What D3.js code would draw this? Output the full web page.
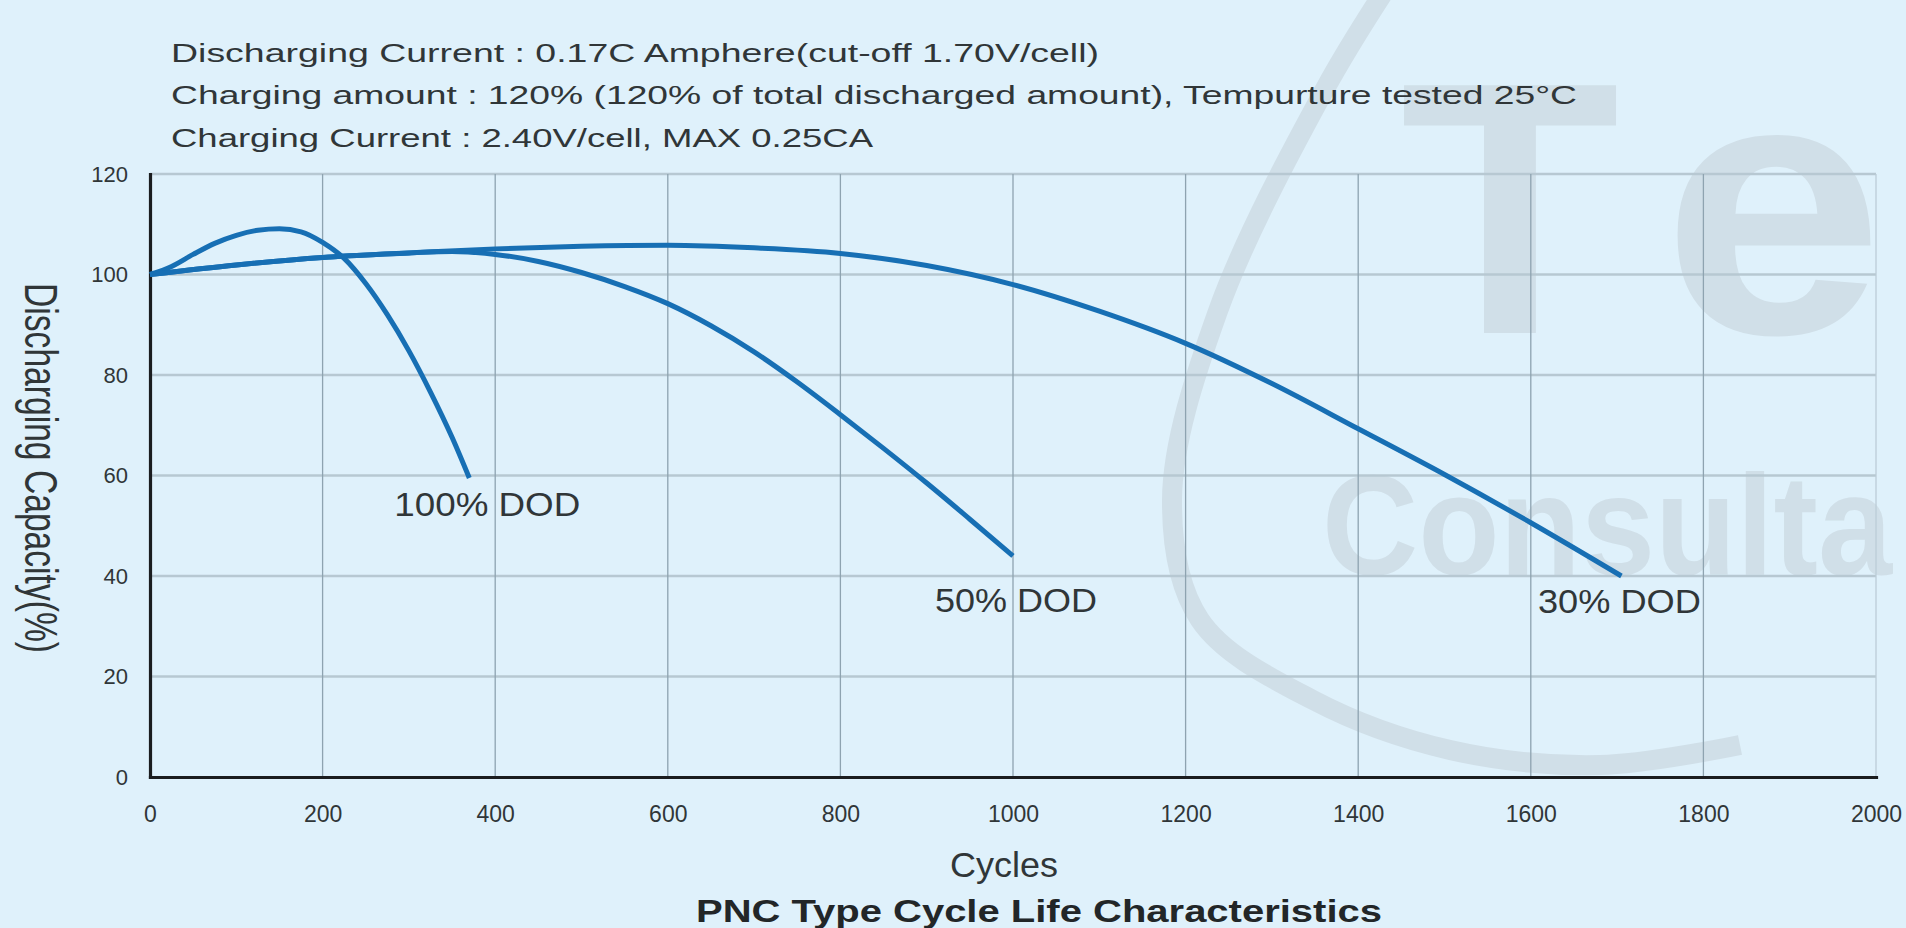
<!DOCTYPE html>
<html>
<head>
<meta charset="utf-8">
<script src="https://cdn.jsdelivr.net/npm/d3@7"></script>
<style>
body { margin: 0; background: #dff1fb; }
svg { display: block; font-family: "Liberation Sans", Arial, sans-serif; }
</style>
</head>
<body>
<svg width="1906" height="928"></svg>
<script>
// cycle life curves
var cycles100 = [0, 25, 50, 75, 100, 125, 150, 175, 200, 225, 250, 275, 300, 325, 350, 370];
var capacity100 = [100, 101.6, 104, 106.2, 107.8, 108.8, 109.1, 108.5, 106.4, 103.2, 98.2, 92, 84.8, 76.6, 67.6, 59.5];

var cycles50 = [0, 100, 200, 300, 350, 400, 450, 500, 550, 600, 650, 700, 750, 800, 850, 900, 950, 1000];
var capacity50 = [100, 101.9, 103.4, 104.3, 104.6, 104, 102.6, 100.4, 97.6, 94.2, 89.8, 84.6, 78.6, 72.1, 65.4, 58.5, 51.3, 44];

var cycles30 = [0, 100, 200, 300, 400, 500, 600, 700, 800, 900, 1000, 1100, 1200, 1300, 1400, 1500, 1600, 1705];
var capacity30 = [100, 101.9, 103.4, 104.3, 105.1, 105.6, 105.8, 105.3, 104.2, 101.8, 98, 92.7, 86.3, 78.3, 69.3, 60.2, 50.6, 40];

var seriesNames = ["100% DOD", "50% DOD", "30% DOD"];
var xTicks = [0, 200, 400, 600, 800, 1000, 1200, 1400, 1600, 1800, 2000];
var yTicks = [0, 20, 40, 60, 80, 100, 120];

var notes = [
  "Discharging Current : 0.17C Amphere(cut-off 1.70V/cell)",
  "Charging amount : 120% (120% of total discharged amount), Tempurture tested 25°C",
  "Charging Current : 2.40V/cell, MAX 0.25CA"
];
var xTitle = "Cycles";
var yTitle = "Discharging Capacity(%)";
var chartTitle = "PNC Type Cycle Life Characteristics";

var svg = d3.select("svg");
var lineColor = "#176fb4";
var textColor = "#303638";
var wmColor = "#d0dfe8";

var x = d3.scaleLinear().domain([0, 2000]).range([150, 1876]);
var y = d3.scaleLinear().domain([0, 120]).range([777, 174]);

// faint watermark behind the chart
var wm = svg.append("g").attr("class", "watermark");
var arcPts = [[1395, -25], [1325, 89], [1218, 311], [1172, 500], [1200, 620], [1313, 700], [1450, 750], [1600, 765], [1740, 745]];
wm.append("path")
  .attr("d", d3.line().curve(d3.curveCatmullRom)(arcPts))
  .attr("fill", "none").attr("stroke", wmColor).attr("stroke-width", 20);
wm.append("text").attr("x", 1400).attr("y", 333).text("T")
  .style("font-size", "360px").style("font-weight", "bold").attr("fill", wmColor);
wm.append("text").attr("x", 1662).attr("y", 333).text("e")
  .attr("textLength", 222).attr("lengthAdjust", "spacingAndGlyphs")
  .style("font-size", "368px").style("font-weight", "bold").attr("fill", wmColor);
wm.append("text").attr("x", 1322).attr("y", 575).text("Consulta")
  .attr("textLength", 570).attr("lengthAdjust", "spacingAndGlyphs")
  .style("font-size", "142px").style("font-weight", "bold").attr("fill", wmColor);

// grid
svg.append("g").selectAll("line").data(yTicks.filter(function(d) { return d > 0; }))
  .enter().append("line")
  .attr("x1", x(0)).attr("x2", x(2000))
  .attr("y1", function(d) { return y(d); }).attr("y2", function(d) { return y(d); })
  .attr("stroke", "#b7c8d2").attr("stroke-width", 2.5);

svg.append("g").selectAll("line").data(xTicks.filter(function(d) { return d > 0; }))
  .enter().append("line")
  .attr("x1", function(d) { return x(d); }).attr("x2", function(d) { return x(d); })
  .attr("y1", y(0)).attr("y2", y(120))
  .attr("stroke", function(d) { return d == 2000 ? "#bccdd7" : "#8ea3b0"; })
  .attr("stroke-width", 1.3);

// axes
var xAxis = svg.append("g").attr("transform", "translate(0," + y(0) + ")")
  .call(d3.axisBottom(x).tickValues(xTicks).tickFormat(d3.format("d")).tickSize(0).tickPadding(29).tickSizeOuter(0));
var yAxis = svg.append("g").attr("transform", "translate(" + x(0) + ",0)")
  .call(d3.axisLeft(y).tickValues(yTicks).tickFormat(d3.format("d")).tickSize(0).tickPadding(22).tickSizeOuter(0));

xAxis.select(".domain").attr("stroke", "#1b1d1f").attr("stroke-width", 3.2).attr("stroke-linecap", "square");
yAxis.select(".domain").attr("stroke", "#1b1d1f").attr("stroke-width", 3.2).attr("stroke-linecap", "square");
xAxis.selectAll("text").style("font-size", "23px").attr("fill", textColor).style("font-family", "Liberation Sans, Arial, sans-serif");
yAxis.selectAll("text").style("font-size", "22px").attr("fill", textColor).style("font-family", "Liberation Sans, Arial, sans-serif");

// curves
var series = [
  { name: seriesNames[0], cycles: cycles100, capacity: capacity100 },
  { name: seriesNames[1], cycles: cycles50, capacity: capacity50 },
  { name: seriesNames[2], cycles: cycles30, capacity: capacity30 }
];
var labelDx = [18, 3, -2];
var labelDy = [38, 56, 37];
var labelWidth = [186, 162, 163];

var line = d3.line()
  .x(function(d) { return x(d[0]); })
  .y(function(d) { return y(d[1]); })
  .curve(d3.curveMonotoneX);

series.forEach(function(s, i) {
  var pts = s.cycles.map(function(c, j) { return [c, s.capacity[j]]; });
  svg.append("path")
    .attr("d", line(pts))
    .attr("fill", "none")
    .attr("stroke", lineColor)
    .attr("stroke-width", 5);

  var last = pts[pts.length - 1];
  svg.append("text")
    .attr("x", x(last[0]) + labelDx[i])
    .attr("y", y(last[1]) + labelDy[i])
    .attr("text-anchor", "middle")
    .attr("textLength", labelWidth[i]).attr("lengthAdjust", "spacingAndGlyphs")
    .style("font-size", "34px").attr("fill", textColor)
    .text(s.name);
});

// notes at the top
var noteY = [62, 104, 147];
var noteW = [928, 1406, 702];
notes.forEach(function(t, i) {
  svg.append("text").attr("x", 171).attr("y", noteY[i])
    .attr("textLength", noteW[i]).attr("lengthAdjust", "spacingAndGlyphs")
    .style("font-size", "25px").attr("fill", textColor)
    .text(t);
});

// axis titles
svg.append("text").attr("x", 1004).attr("y", 877).attr("text-anchor", "middle")
  .attr("textLength", 108).attr("lengthAdjust", "spacingAndGlyphs")
  .style("font-size", "35px").attr("fill", textColor).text(xTitle);

svg.append("text").attr("transform", "translate(25,468) rotate(90) scale(1,1.35)")
  .attr("text-anchor", "middle")
  .attr("textLength", 370).attr("lengthAdjust", "spacingAndGlyphs")
  .style("font-size", "33.6px").attr("fill", textColor).text(yTitle);

svg.append("text").attr("x", 1039).attr("y", 922).attr("text-anchor", "middle")
  .attr("textLength", 686).attr("lengthAdjust", "spacingAndGlyphs")
  .style("font-size", "31px").style("font-weight", "bold").attr("fill", "#222628").text(chartTitle);
</script>
</body>
</html>
